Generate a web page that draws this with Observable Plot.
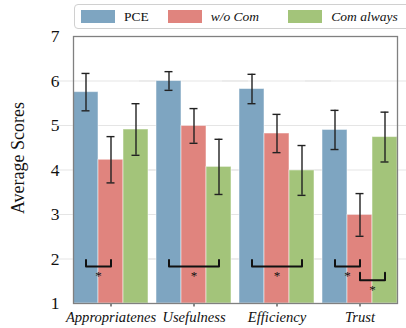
<!DOCTYPE html>
<html><head><meta charset="utf-8">
<script src="https://cdn.jsdelivr.net/npm/d3@7"></script>
<script src="https://cdn.jsdelivr.net/npm/@observablehq/plot@0.6"></script>
<style>
html,body{margin:0;padding:0;background:#fff;overflow:hidden}
#wrap{position:relative;width:406px;height:328px;font-family:"Liberation Serif","Times New Roman",serif;color:#111}
#wrap svg{position:absolute;left:0;top:0;font-family:"Liberation Serif","Times New Roman",serif}
g[aria-label^="fx-axis"] text{font-family:"Liberation Serif",serif;font-style:italic;font-size:14.6px;fill:#111}
g[aria-label^="y-axis"] text{font-family:"Liberation Serif",serif;font-variant:normal;font-size:17.5px;fill:#111}
#ylab{position:absolute;left:18px;top:158px;transform:translate(-50%,-50%) rotate(-90deg);white-space:nowrap;font-size:18px}
#legend{position:absolute;left:74px;top:4px;width:345px;height:23px;border:1px solid #d0d0d0;border-radius:4px;background:rgba(255,255,255,0.85)}
.item{position:absolute;top:0;height:23px;display:flex;align-items:center;font-size:13.5px}
.sw{width:34px;height:13px;margin-right:9px}
</style></head><body><div id="wrap"></div>
<script>
const categories = ["Appropriatenes", "Usefulness", "Efficiency", "Trust"];
const methods = ["PCE", "w/o Com", "Com always"];
const pceMean = [5.75, 6.0, 5.82, 4.9];
const pceErr = [0.42, 0.21, 0.33, 0.44];
const woComMean = [4.23, 4.99, 4.82, 2.99];
const woComErr = [0.52, 0.39, 0.43, 0.48];
const comAlwaysMean = [4.91, 4.07, 3.99, 4.74];
const comAlwaysErr = [0.58, 0.62, 0.56, 0.56];
const colors = ["#7ea5c1", "#e0847e", "#a3c47a"];
const yTicks = [1, 2, 3, 4, 5, 6, 7];
const gridTicks = [2, 3, 4, 5, 6];
// significance brackets
const sigCategory = ["Appropriatenes", "Usefulness", "Efficiency", "Trust", "Trust"];
const sigFrom = [0, 0, 0, 0, 1];
const sigTo = [1, 2, 2, 1, 2];
const sigTop = [1.98, 1.98, 1.98, 1.98, 1.69];
const sigBottom = [1.83, 1.83, 1.83, 1.83, 1.52];
const sigStarY = [1.68, 1.68, 1.68, 1.68, 1.37];

const means = [pceMean, woComMean, comAlwaysMean];
const errs = [pceErr, woComErr, comAlwaysErr];
const bars = categories.flatMap((c, i) => methods.map((m, j) => ({
  category: c, method: m, m: j, value: means[j][i], err: errs[j][i]
})));
const bracketPts = sigCategory.flatMap((c, k) => [
  {k, category: c, x: sigFrom[k], y: sigTop[k]},
  {k, category: c, x: sigFrom[k], y: sigBottom[k]},
  {k, category: c, x: sigTo[k], y: sigBottom[k]},
  {k, category: c, x: sigTo[k], y: sigTop[k]}
]);
const stars = sigCategory.map((c, k) => ({category: c, x: (sigFrom[k] + sigTo[k]) / 2, y: sigStarY[k]}));

const chart = Plot.plot({
  width: 406, height: 328,
  marginTop: 36, marginBottom: 25, marginLeft: 57, marginRight: -8,
  style: {background: "transparent", fontFamily: "Liberation Serif"},
  fx: {domain: categories, paddingInner: 0.096, paddingOuter: 0.196, label: null, tickSize: 3.5, tickPadding: 4.5},
  x: {domain: [-0.5, 2.5], axis: null},
  y: {domain: [1, 7], ticks: yTicks, tickFormat: d3.format("d"), tickSize: 0, tickPadding: 14, label: null},
  color: {domain: methods, range: colors},
  marks: [
    Plot.ruleY(gridTicks, {stroke: "#e5e5e5", strokeWidth: 1, insetLeft: -17, insetRight: -17}),
    Plot.rectY(bars, {fx: "category", x1: d => d.m - 0.5, x2: d => d.m + 0.5, y1: 1, y2: "value", fill: "method", stroke: "white", strokeOpacity: 0.5, strokeWidth: 1}),
    Plot.ruleX(bars, {fx: "category", x: "m", y1: d => d.value - d.err, y2: d => d.value + d.err, stroke: "#222", strokeWidth: 1.4}),
    Plot.ruleY(bars, {fx: "category", y: d => d.value + d.err, x1: d => d.m - 0.16, x2: d => d.m + 0.16, stroke: "#222", strokeWidth: 1.4}),
    Plot.ruleY(bars, {fx: "category", y: d => d.value - d.err, x1: d => d.m - 0.16, x2: d => d.m + 0.16, stroke: "#222", strokeWidth: 1.4}),
    Plot.frame({facet: "super", stroke: "#808080", strokeWidth: 1.3}),
    Plot.line(bracketPts, {fx: "category", x: "x", y: "y", z: "k", stroke: "#111", strokeWidth: 2, curve: "linear"}),
    Plot.text(stars, {fx: "category", x: "x", y: "y", text: () => "*", fontSize: 13, fill: "#111", dy: 3})
  ]
});
const wrap = document.getElementById("wrap");
wrap.appendChild(chart);
const yl = document.createElement("div"); yl.id = "ylab"; yl.textContent = "Average Scores"; wrap.appendChild(yl);
const lg = document.createElement("div"); lg.id = "legend";
const itemLeft = [6, 92.7, 213.3];
methods.forEach((m, i) => {
  const it = document.createElement("div"); it.className = "item"; it.style.left = itemLeft[i] + "px";
  const sw = document.createElement("div"); sw.className = "sw"; sw.style.background = colors[i];
  const tx = document.createElement("span"); tx.textContent = m; if (i > 0) tx.style.fontStyle = "italic";
  it.appendChild(sw); it.appendChild(tx); lg.appendChild(it);
});
wrap.appendChild(lg);
</script></body></html>
